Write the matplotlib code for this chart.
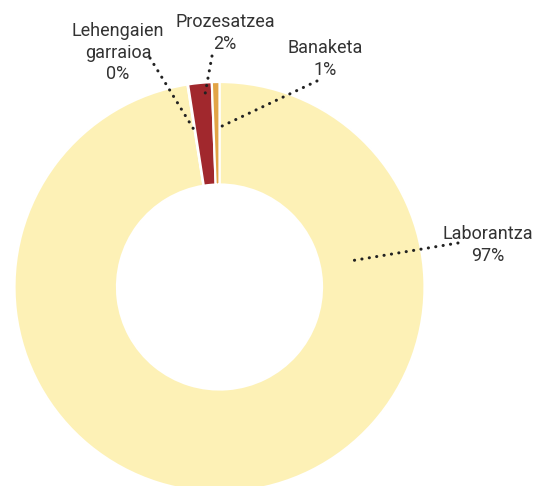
import matplotlib
matplotlib.use("Agg")
import matplotlib.pyplot as plt

categories = ["Laborantza", "Lehengaien\ngarraioa", "Prozesatzea", "Banaketa"]
values = [97.5, 0.05, 1.85, 0.6]
pct_labels = ["97%", "0%", "2%", "1%"]
colors = ["#FDF1B6", "#FFFFFF", "#A1282D", "#E2A446"]

# label placement (pixel coords, y from top): text anchor, line start (text side), line end (slice side)
label_pos = [(488, 245), (118, 53), (225, 33), (325, 59)]
line_start = [(458, 243), (150, 58), (212, 56), (317, 81)]
line_end = [(350, 261), (196, 133), (204, 100), (218, 128)]

W, H = 536, 486
fig = plt.figure(figsize=(W / 100, H / 100), dpi=100)
ax = fig.add_axes([0, 0, 1, 1])

cx, cy, R = 219.5, H - 287, 205
ax.pie(values, colors=colors, startangle=90, counterclock=False,
       center=(cx, cy), radius=R,
       wedgeprops=dict(width=R * 0.5, edgecolor="white", linewidth=1.6))

ax.set_xlim(0, W)
ax.set_ylim(0, H)
ax.set_aspect("equal")
ax.axis("off")

for cat, pct, (tx, ty), (sx, sy), (ex, ey) in zip(categories, pct_labels, label_pos, line_start, line_end):
    ax.plot([sx, ex], [H - sy, H - ey], linestyle=(0, (0.05, 2.4)), color="#222222",
            linewidth=2.2, dash_capstyle="round", solid_capstyle="round")
    ax.text(tx, H - ty, f"{cat}\n{pct}", ha="center", va="center", fontsize=13,
            family="Roboto", color="#333333", linespacing=1.25)

fig.savefig("out.png", dpi=100)
